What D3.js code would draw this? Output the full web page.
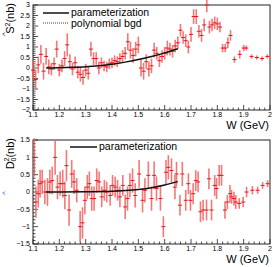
<!DOCTYPE html>
<html>
<head>
<meta charset="utf-8">
<script src="https://cdn.jsdelivr.net/npm/d3@7"></script>
<style>
  body { margin: 0; background: #fff; }
  svg { font-family: "Liberation Sans", Arial, sans-serif; display: block; }
</style>
</head>
<body>
<div id="chart"></div>
<script>
// S^2 panel: W (GeV), value (nb), error
var sW = [1.10,1.11,1.12,1.13,1.14,1.15,1.16,1.17,1.18,1.19,1.20,1.21,1.22,1.23,1.24,1.25,1.26,1.27,1.28,1.29,
          1.30,1.31,1.32,1.33,1.34,1.35,1.36,1.37,1.38,1.39,1.40,1.41,1.42,1.43,1.44,1.45,1.46,1.47,1.48,1.49,
          1.50,1.51,1.52,1.53,1.54,1.55,1.56,1.57,1.58,1.59,1.60,1.61,1.62,1.63,1.64,1.65,1.66,1.67,1.68,1.69,
          1.70,1.71,1.72,1.73,1.74,1.75,1.76,1.77,1.78,1.79,1.80,1.81,1.82,1.83,1.84,1.85,1.865,1.885,1.90,1.91,
          1.93,1.95,1.97,1.99];
var sVal = [-0.1,-0.55,0.15,0.65,-0.15,0.55,0.05,-0.05,0.2,0.9,-0.1,0.1,0.45,1.1,0.3,-0.05,0.25,-0.2,-0.3,-0.45,
            -0.1,-0.25,0.9,0.45,0.45,0.0,0.25,0.1,0.05,0.2,0.25,0.35,0.3,0.45,0.55,0.7,1.25,0.85,0.6,0.9,
            1.1,0.0,-0.15,0.3,-0.05,0.1,0.85,0.7,0.35,0.55,0.7,0.95,0.9,0.8,1.05,1.2,1.8,1.45,1.3,1.0,
            1.6,2.45,2.45,1.75,1.55,2.05,3.0,1.95,2.05,2.15,2.1,1.95,0.95,0.95,1.2,1.55,0.4,0.65,0.95,0.95,
            0.55,0.5,0.45,0.55];
var sErr = [0.5,0.45,0.4,0.45,0.4,0.4,0.35,0.3,0.3,0.4,0.3,0.3,0.35,0.55,0.35,0.3,0.3,0.3,0.35,0.35,
            0.3,0.3,0.35,0.3,0.3,0.3,0.25,0.25,0.25,0.25,0.25,0.25,0.25,0.25,0.3,0.3,0.4,0.4,0.35,0.35,
            0.4,0.4,0.4,0.35,0.35,0.35,0.35,0.3,0.3,0.3,0.3,0.35,0.3,0.3,0.3,0.3,0.3,0.3,0.3,0.3,
            0.35,0.35,0.35,0.3,0.3,0.3,0.35,0.3,0.3,0.3,0.3,0.25,0.2,0.2,0.25,0.25,0.15,0.2,0.15,0.12,
            0.1,0.1,0.1,0.1];

// D0^2 panel
var dW = [1.105,1.111,1.120,1.127,1.135,1.145,1.155,1.164,1.173,1.184,1.193,1.203,1.213,1.221,1.227,1.237,1.247,1.256,1.266,1.279,
          1.288,1.297,1.306,1.314,1.323,1.332,1.342,1.351,1.361,1.371,1.380,1.393,1.402,1.412,1.421,1.430,1.441,1.450,1.459,1.468,
          1.478,1.488,1.503,1.516,1.525,1.538,1.550,1.560,1.569,1.584,1.595,1.605,1.614,1.626,1.639,1.645,1.658,1.667,1.680,1.690,
          1.698,1.708,1.718,1.727,1.736,1.746,1.759,1.768,1.778,1.790,1.797,1.807,1.816,1.829,1.838,1.848,1.854,1.863,1.870,1.883,
          1.898,1.911,1.933,1.953,1.972,1.991];
var dVal = [1.0,-0.29,-0.05,0.24,0.29,0.0,0.0,0.29,0.33,1.0,0.14,0.24,0.24,-0.1,0.76,-0.52,0.52,0.29,0.05,-1.0,
            -0.89,-0.24,0.14,0.24,-0.19,-0.19,0.33,0.29,-0.14,0.05,0.0,-0.1,0.19,0.14,0.05,-0.14,0.19,-0.43,-0.19,0.19,
            0.33,-0.1,0.52,-0.24,0.05,0.48,-0.19,0.48,0.1,-0.19,-1.0,0.57,0.71,0.62,0.14,0.52,-0.38,0.52,-0.24,0.24,
            -0.24,-0.05,0.33,0.29,-0.57,-0.52,-0.52,0.38,-0.52,0.19,0.1,0.48,0.48,-0.52,-0.29,-0.05,-0.14,-0.19,-0.29,-0.33,
            -0.29,0.0,0.05,0.05,0.19,0.24];
var dErr = [0.55,0.45,0.4,0.4,0.35,0.35,0.4,0.35,0.4,0.5,0.35,0.35,0.4,0.4,0.45,0.45,0.4,0.35,0.35,0.45,
            0.45,0.4,0.35,0.35,0.35,0.35,0.35,0.3,0.3,0.3,0.3,0.3,0.3,0.3,0.3,0.3,0.3,0.35,0.35,0.35,
            0.35,0.35,0.4,0.35,0.35,0.4,0.35,0.4,0.35,0.35,0.3,0.35,0.35,0.35,0.35,0.35,0.3,0.35,0.3,0.3,
            0.3,0.3,0.3,0.3,0.3,0.3,0.3,0.3,0.3,0.3,0.3,0.3,0.3,0.25,0.2,0.25,0.2,0.2,0.2,0.15,
            0.15,0.15,0.12,0.1,0.1,0.1];

// fitted parameterization curves
var sFitW = [1.15,1.20,1.25,1.30,1.35,1.40,1.45,1.50,1.55,1.60,1.65];
var sFitV = [0.0,0.01,0.03,0.06,0.11,0.18,0.28,0.40,0.55,0.72,0.92];
var dFitW = [1.15,1.20,1.30,1.40,1.45,1.50,1.55,1.60,1.65];
var dFitV = [0.0,0.0,0.005,0.02,0.04,0.07,0.12,0.2,0.3];

var xTicks = [1.1,1.2,1.3,1.4,1.5,1.6,1.7,1.8,1.9,2.0];

var svg = d3.select("#chart").append("svg")
    .attr("width", 273)
    .attr("height", 267);

var x = d3.scaleLinear().domain([1.1, 2.0]).range([33, 270]);

function panel(opts) {
  var y = d3.scaleLinear().domain(opts.yDomain).range([opts.bottom, opts.top]);
  var g = svg.append("g");

  // frame
  g.append("rect")
      .attr("x", 33).attr("y", opts.top)
      .attr("width", 237).attr("height", opts.bottom - opts.top)
      .attr("fill", "none").attr("stroke", "#222").attr("stroke-width", 1);

  // inward ticks, y axis
  var yMinor = d3.range(opts.yDomain[0], opts.yDomain[1] + 1e-9, 0.1);
  g.selectAll(".ymin").data(yMinor).enter().append("line")
      .attr("x1", 33).attr("x2", function(d) { return Math.abs(d * 2 - Math.round(d * 2)) < 1e-6 ? 38 : 35.5; })
      .attr("y1", function(d) { return y(d); }).attr("y2", function(d) { return y(d); })
      .attr("stroke", "#222").attr("stroke-width", 0.8);

  g.selectAll(".ylab").data(opts.yTicks).enter().append("text")
      .attr("x", 30).attr("y", function(d) { return y(d); })
      .attr("dy", "0.35em")
      .attr("text-anchor", "end")
      .attr("font-size", 7)
      .text(function(d) { return d3.format("")(d); });

  // inward ticks, x axis
  var xMinor = d3.range(1.1, 2.0 + 1e-9, 0.02);
  g.selectAll(".xmin").data(xMinor).enter().append("line")
      .attr("x1", function(d) { return x(d); }).attr("x2", function(d) { return x(d); })
      .attr("y1", opts.bottom)
      .attr("y2", function(d) { return Math.abs(d * 10 - Math.round(d * 10)) < 1e-6 ? opts.bottom - 5 : opts.bottom - 2.5; })
      .attr("stroke", "#222").attr("stroke-width", 0.8);

  g.selectAll(".xlab").data(xTicks).enter().append("text")
      .attr("x", function(d) { return x(d); }).attr("y", opts.bottom + 7)
      .attr("text-anchor", "middle")
      .attr("font-size", 7)
      .text(function(d) { return d === 2 ? "2" : d3.format(".1f")(d); });

  g.append("text")
      .attr("x", 269).attr("y", opts.bottom + 19)
      .attr("text-anchor", "end")
      .attr("font-size", 11)
      .text("W (GeV)");

  // data points
  var pts = opts.W.map(function(w, i) { return {w: w, v: opts.val[i], e: opts.err[i]}; });
  g.selectAll(".eb").data(pts).enter().append("line")
      .attr("x1", function(d) { return x(d.w); }).attr("x2", function(d) { return x(d.w); })
      .attr("y1", function(d) { return y(d.v - d.e); }).attr("y2", function(d) { return y(d.v + d.e); })
      .attr("stroke", "#f26161").attr("stroke-width", 1.6).attr("opacity", 0.85);
  g.selectAll(".mk").data(pts).enter().append("line")
      .attr("x1", function(d) { return x(d.w) - 2; }).attr("x2", function(d) { return x(d.w) + 2; })
      .attr("y1", function(d) { return y(d.v); }).attr("y2", function(d) { return y(d.v); })
      .attr("stroke", "#e8141a").attr("stroke-width", 1);

  // parameterization curve
  var line = d3.line()
      .x(function(d) { return x(d[0]); })
      .y(function(d) { return y(d[1]); })
      .curve(d3.curveMonotoneX);
  g.append("path")
      .datum(opts.fitW.map(function(w, i) { return [w, opts.fitV[i]]; }))
      .attr("d", line)
      .attr("fill", "none").attr("stroke", "#111").attr("stroke-width", 1.5);

  return g;
}

var topPanel = panel({
  top: 5, bottom: 110, yDomain: [-2, 3],
  yTicks: [3,2.5,2,1.5,1,0.5,0,-0.5,-1,-1.5,-2],
  W: sW, val: sVal, err: sErr, fitW: sFitW, fitV: sFitV
});

var botPanel = panel({
  top: 140, bottom: 244, yDomain: [-1.5, 1.5],
  yTicks: [1.5,1,0.5,0,-0.5,-1,-1.5],
  W: dW, val: dVal, err: dErr, fitW: dFitW, fitV: dFitV
});

// legends
topPanel.append("line").attr("x1", 43).attr("x2", 69).attr("y1", 13).attr("y2", 13)
    .attr("stroke", "#111").attr("stroke-width", 1.5);
topPanel.append("text").attr("x", 71).attr("y", 12.5).attr("dy", "0.33em")
    .attr("font-size", 10.5).text("parameterization");
topPanel.append("line").attr("x1", 43).attr("x2", 69).attr("y1", 23).attr("y2", 23)
    .attr("stroke", "#111").attr("stroke-width", 0.8).attr("stroke-dasharray", "1,1");
topPanel.append("text").attr("x", 71).attr("y", 23.5).attr("dy", "0.33em")
    .attr("font-size", 10.5).text("polynomial bgd");

botPanel.append("line").attr("x1", 70).attr("x2", 97).attr("y1", 147).attr("y2", 147)
    .attr("stroke", "#111").attr("stroke-width", 1.5);
botPanel.append("text").attr("x", 99).attr("y", 147).attr("dy", "0.33em")
    .attr("font-size", 10.5).text("parameterization");

// y axis titles
var t1 = svg.append("text")
    .attr("transform", "translate(14,3) rotate(-90)")
    .attr("text-anchor", "end")
    .attr("font-size", 11);
t1.append("tspan").text("S");
t1.append("tspan").attr("font-size", 7).attr("dy", -4).text("2");
t1.append("tspan").attr("dy", 4).text("(nb)");
svg.append("text")
    .attr("transform", "translate(7,34) rotate(-90)")
    .attr("text-anchor", "middle")
    .attr("font-size", 8).attr("fill", "#334")
    .text("^");

var t2 = svg.append("text")
    .attr("transform", "translate(14,138) rotate(-90)")
    .attr("text-anchor", "end")
    .attr("font-size", 11);
t2.append("tspan").text("D");
t2.append("tspan").attr("font-size", 7).attr("dy", 2).text("0");
t2.append("tspan").attr("font-size", 7).attr("dx", -4).attr("dy", -7).text("2");
t2.append("tspan").attr("dy", 5).text("(nb)");
svg.append("text")
    .attr("transform", "translate(7,193) rotate(-90)")
    .attr("text-anchor", "middle")
    .attr("font-size", 8).attr("fill", "#2a6fd6")
    .text("^");
</script>
</body>
</html>
